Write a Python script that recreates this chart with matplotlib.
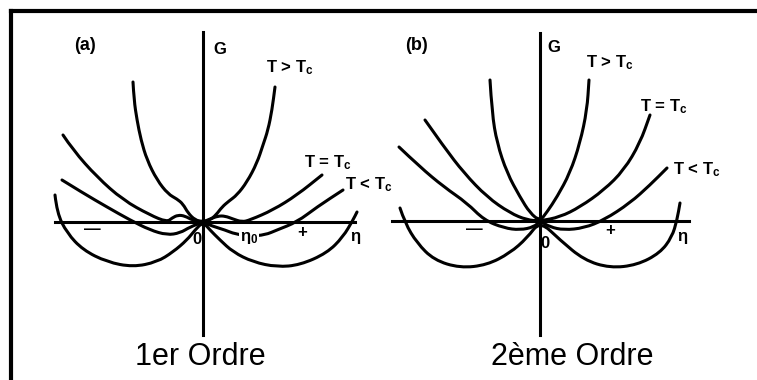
import matplotlib
matplotlib.use("Agg")
import matplotlib.pyplot as plt
from matplotlib.lines import Line2D
from matplotlib.path import Path
from matplotlib.patches import PathPatch

plt.rcParams["font.family"] = ["Liberation Sans", "DejaVu Sans"]
plt.rcParams["mathtext.fontset"] = "custom"
plt.rcParams["mathtext.rm"] = "Liberation Sans:bold"
plt.rcParams["mathtext.default"] = "rm"

# ---- panel (a): first order, G(eta) ----
a_hot_eta = [-0.70, -0.69, -0.66, -0.62, -0.56, -0.46, -0.35, -0.26, -0.20, -0.15, -0.08, 0.0,
             0.07, 0.13, 0.19, 0.26, 0.34, 0.44, 0.54, 0.60, 0.65, 0.69, 0.72]
a_hot_g = [1.40, 1.22, 1.02, 0.82, 0.62, 0.42, 0.28, 0.23, 0.18, 0.09, 0.02, 0.0,
           0.02, 0.07, 0.15, 0.21, 0.27, 0.40, 0.59, 0.77, 0.92, 1.12, 1.35]

a_tc_eta = [-1.40, -1.30, -1.06, -0.80, -0.53, -0.36, -0.31, -0.25, -0.18, -0.11, 0.0,
            0.07, 0.15, 0.22, 0.30, 0.39, 0.47, 0.70, 0.94, 1.19]
a_tc_g = [0.87, 0.72, 0.45, 0.22, 0.07, 0.0, 0.04, 0.07, 0.06, 0.02, 0.0,
          0.03, 0.06, 0.06, 0.03, 0.0, 0.02, 0.12, 0.27, 0.47]

a_low_eta = [-1.41, -1.20, -0.96, -0.73, -0.53, -0.36, -0.23, -0.13, 0.0,
             0.09, 0.22, 0.32, 0.47, 0.62, 0.74, 0.94, 1.14, 1.40]
a_low_g = [0.42, 0.29, 0.15, 0.02, -0.08, -0.13, -0.11, -0.05, 0.0,
           -0.04, -0.08, -0.12, -0.14, -0.13, -0.08, 0.0, 0.15, 0.32]

a_deep_eta = [-1.48, -1.46, -1.36, -1.20, -0.96, -0.70, -0.46, -0.30, -0.16, -0.08, 0.0,
              0.07, 0.17, 0.30, 0.50, 0.74, 0.97, 1.24, 1.40, 1.50, 1.54]
a_deep_g = [0.27, 0.09, -0.11, -0.28, -0.40, -0.45, -0.40, -0.30, -0.18, -0.08, 0.0,
            -0.08, -0.18, -0.30, -0.40, -0.45, -0.43, -0.31, -0.15, 0.02, 0.10]

# ---- panel (b): second order ----
b_hot_eta = [-0.50, -0.48, -0.43, -0.33, -0.20, -0.10, 0.0, 0.07, 0.17, 0.30, 0.40, 0.47, 0.49]
b_hot_g = [1.41, 1.08, 0.78, 0.48, 0.24, 0.08, 0.0, 0.09, 0.24, 0.48, 0.78, 1.11, 1.41]

b_tc_eta = [-1.15, -0.96, -0.76, -0.53, -0.30, -0.13, 0.0, 0.20, 0.40, 0.64, 0.84, 1.00, 1.10]
b_tc_g = [1.01, 0.74, 0.48, 0.24, 0.08, 0.01, 0.0, 0.04, 0.14, 0.31, 0.51, 0.78, 1.06]

b_low_eta = [-1.41, -1.20, -0.96, -0.73, -0.56, -0.36, -0.20, -0.06, 0.0,
             0.10, 0.24, 0.44, 0.64, 0.90, 1.10, 1.27]
b_low_g = [0.74, 0.54, 0.34, 0.18, 0.01, -0.07, -0.09, -0.06, 0.0,
           -0.06, -0.09, -0.07, 0.01, 0.18, 0.36, 0.53]

b_deep_eta = [-1.40, -1.35, -1.23, -1.06, -0.80, -0.53, -0.30, -0.13, 0.0,
              0.20, 0.44, 0.70, 0.97, 1.20, 1.32, 1.37, 1.40]
b_deep_g = [0.13, -0.02, -0.22, -0.39, -0.47, -0.44, -0.32, -0.17, 0.0,
            -0.19, -0.39, -0.47, -0.44, -0.32, -0.16, 0.01, 0.18]


def smooth_curve(ax, xs, ys, lw):
    # quadratic bezier path: the read points act as control points
    pts = list(zip(xs, ys))
    verts = [pts[0]]
    codes = [Path.MOVETO]
    for i in range(1, len(pts) - 1):
        mid = ((pts[i][0] + pts[i + 1][0]) / 2, (pts[i][1] + pts[i + 1][1]) / 2)
        verts += [pts[i], mid]
        codes += [Path.CURVE3, Path.CURVE3]
    verts.append(pts[-1])
    codes.append(Path.LINETO)
    ax.add_patch(PathPatch(Path(verts, codes), facecolor="none", edgecolor="black",
                           lw=lw, capstyle="round", joinstyle="round"))


fig = plt.figure(figsize=(7.57, 3.80), dpi=100)
fig.patch.set_facecolor("white")

ax_a = fig.add_axes([0, 0, 378 / 757, 1])
ax_b = fig.add_axes([378 / 757, 0, 379 / 757, 1])
ax_a.set_xlim(-2.03, 1.75)
ax_a.set_ylim(-1.58, 2.22)
ax_b.set_xlim(-1.62, 2.17)
ax_b.set_ylim(-1.59, 2.21)

lw = 2.2
for ax, curves, hx, vy in [
    (ax_a, [(a_hot_eta, a_hot_g), (a_tc_eta, a_tc_g), (a_low_eta, a_low_g), (a_deep_eta, a_deep_g)],
     (-1.48, 1.52), (-1.13, 1.90)),
    (ax_b, [(b_hot_eta, b_hot_g), (b_tc_eta, b_tc_g), (b_low_eta, b_low_g), (b_deep_eta, b_deep_g)],
     (-1.48, 1.49), (-1.14, 1.88)),
]:
    ax.set_axis_off()
    ax.patch.set_alpha(0)
    ax.plot(hx, [0, 0], color="black", lw=lw)
    ax.plot([0, 0], vy, color="black", lw=lw)
    for eta, g in curves:
        smooth_curve(ax, eta, g, lw)

lab = dict(fontsize=12, fontweight="bold", ha="center", va="center")
ax_a.text(-1.18, 1.77, "(a)", fontsize=13, fontweight="bold", ha="center", va="center")
ax_a.text(0.17, 1.72, "G", **lab)
ax_a.text(0.87, 1.54, "T > T$_c$", **lab)
ax_a.text(1.25, 0.59, "T = T$_c$", **lab)
ax_a.text(1.42, 0.37, "T < T$_c$", fontsize=12, fontweight="bold", ha="left", va="center")
ax_a.text(-1.11, -0.08, "\u2014", **lab)
ax_a.text(0.99, -0.11, "+", **lab)
ax_a.text(-0.06, -0.18, "0", **lab)
ax_a.text(0.46, -0.16, "\u03b7$_0$", bbox=dict(facecolor="white", edgecolor="none", pad=0.5), **lab)
ax_a.text(1.52, -0.15, "\u03b7", **lab)
ax_a.text(-0.03, -1.35, "1er Ordre", fontsize=22, ha="center", va="center")

ax_b.text(-1.23, 1.76, "(b)", fontsize=13, fontweight="bold", ha="center", va="center")
ax_b.text(0.14, 1.74, "G", **lab)
ax_b.text(0.70, 1.58, "T > T$_c$", **lab)
ax_b.text(1.24, 1.14, "T = T$_c$", **lab)
ax_b.text(1.57, 0.51, "T < T$_c$", **lab)
ax_b.text(-0.66, -0.09, "\u2014", **lab)
ax_b.text(0.70, -0.09, "+", **lab)
ax_b.text(0.05, -0.22, "0", **lab)
ax_b.text(1.42, -0.16, "\u03b7", **lab)
ax_b.text(0.32, -1.36, "2\u00e8me Ordre", fontsize=22, ha="center", va="center")

# scanned frame: top and left edges only
top = 1 - 11 / 380
left = 11 / 757
fig.add_artist(Line2D([left, 1.0], [top, top], transform=fig.transFigure, color="black", lw=3))
fig.add_artist(Line2D([left, left], [0.0, top], transform=fig.transFigure, color="black", lw=3))

fig.savefig("out.png", dpi=100, facecolor="white")
